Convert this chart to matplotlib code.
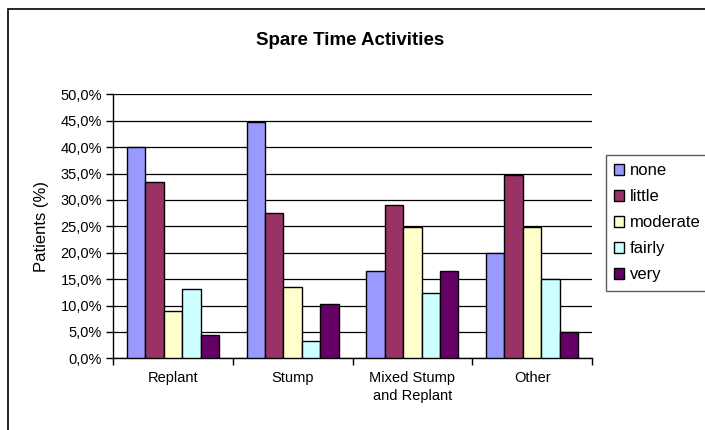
import numpy as np
import matplotlib.pyplot as plt
from matplotlib.ticker import FuncFormatter, FixedLocator
from matplotlib.patches import Rectangle

plt.rcParams['font.family'] = ['Liberation Sans', 'DejaVu Sans']

# data (percent of patients)
categories = ["Replant", "Stump", "Mixed Stump\nand Replant", "Other"]
levels = ["none", "little", "moderate", "fairly", "very"]
none_vals = [40.0, 44.7, 16.6, 20.0]
little_vals = [33.3, 27.5, 29.0, 34.8]
moderate_vals = [8.9, 13.6, 24.9, 24.9]
fairly_vals = [13.2, 3.3, 12.4, 15.0]
very_vals = [4.4, 10.2, 16.6, 5.0]
colors = ["#9999FF", "#993366", "#FFFFCC", "#CCFFFF", "#660066"]

series = [none_vals, little_vals, moderate_vals, fairly_vals, very_vals]

fig = plt.figure(figsize=(7.05, 4.30), dpi=100)
ax = fig.add_axes([0.1603, 0.1667, 0.6794, 0.614])

# outer chart border (clipped at right/bottom like the original)
fig.patches.append(Rectangle((8 / 705, -0.05), 1.2, 1 - 9 / 430 + 0.05,
                             transform=fig.transFigure, fill=False,
                             edgecolor="black", linewidth=1.2))

x = np.arange(len(categories))
w = 1 / 6.5
for i, vals in enumerate(series):
    ax.bar(x + (i - 2) * w, vals, width=w, color=colors[i], edgecolor="black",
           linewidth=1.0, label=levels[i], zorder=3)

ax.set_xlim(-0.5, len(categories) - 0.5)
ax.set_ylim(0, 50)
ax.set_yticks(np.arange(0, 50.1, 5))
ax.yaxis.set_major_formatter(FuncFormatter(lambda v, p: f"{v:.1f}%".replace(".", ",")))
ax.grid(axis="y", color="black", linewidth=0.9, zorder=0)

# category boundary ticks, labels at centers
ax.xaxis.set_major_locator(FixedLocator(np.arange(-0.5, len(categories), 1.0)))
ax.xaxis.set_major_formatter(FuncFormatter(lambda v, p: ""))
ax.xaxis.set_minor_locator(FixedLocator(x))
ax.set_xticklabels(categories, minor=True, fontsize=10.5, linespacing=1.35)
ax.tick_params(axis="x", which="minor", length=0, pad=9)
ax.tick_params(axis="x", which="major", length=5, width=1, direction="out")
ax.tick_params(axis="y", length=5, width=1, direction="out", labelsize=10.5, pad=3)

for s in ["top", "right"]:
    ax.spines[s].set_visible(False)
for s in ["left", "bottom"]:
    ax.spines[s].set_linewidth(1.0)

ax.set_ylabel("Patients (%)", fontsize=12, labelpad=8)
fig.text(0.497, 0.905, "Spare Time Activities", ha="center", va="center",
         fontsize=13.5, fontweight="bold")

leg = fig.legend(loc="upper left", bbox_to_anchor=(606 / 705, 1 - 155 / 430),
                 fontsize=12, frameon=True, fancybox=False, edgecolor="#333333",
                 handlelength=0.6, handleheight=0.6, handletextpad=0.35,
                 labelspacing=0.66, borderpad=0.5, borderaxespad=0)
leg.get_frame().set_linewidth(1.0)

fig.savefig("out.png", dpi=100)
